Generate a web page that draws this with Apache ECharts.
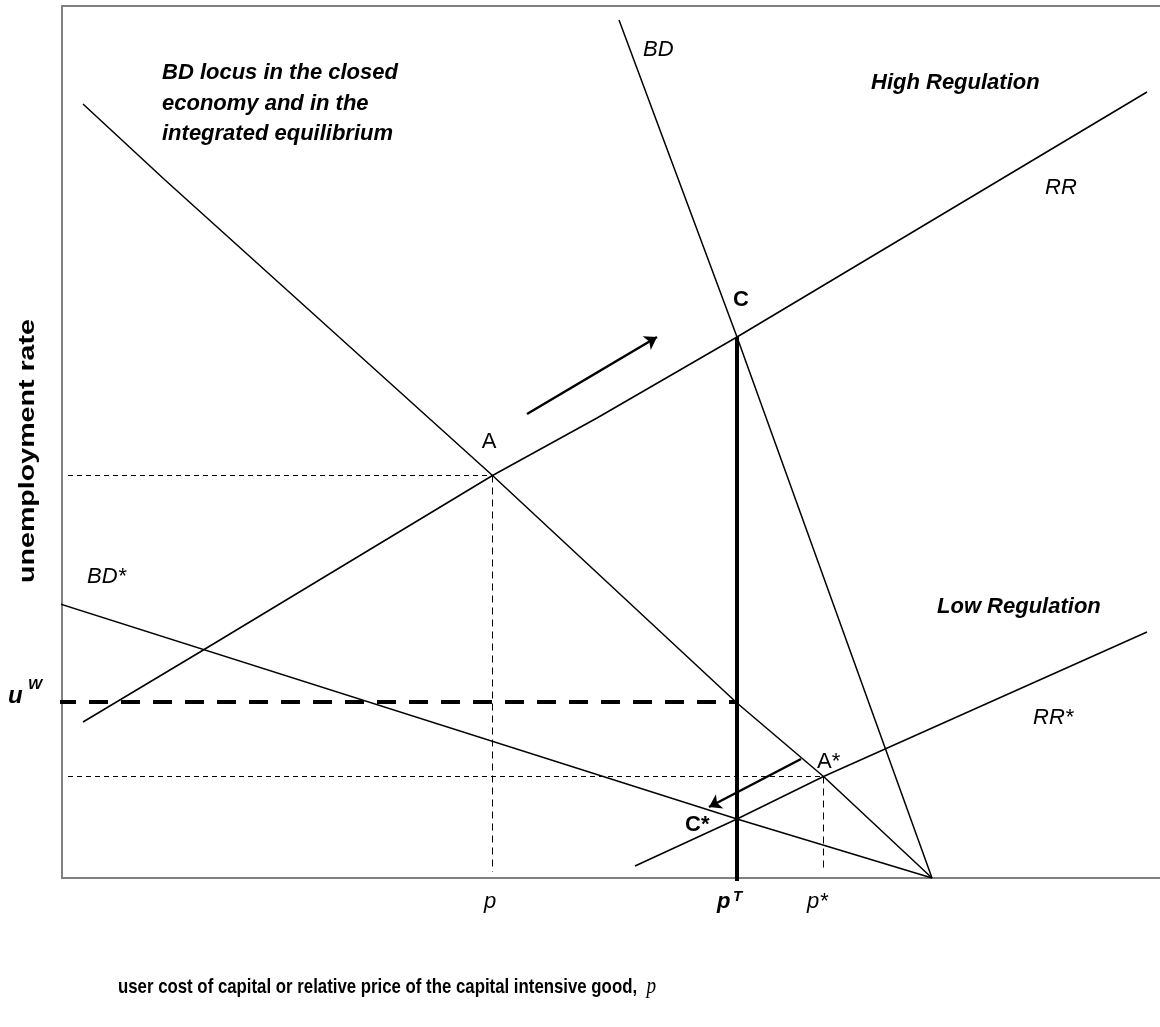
<!DOCTYPE html>
<html>
<head>
<meta charset="utf-8">
<title>BD and RR loci</title>
<script src="https://cdn.jsdelivr.net/npm/echarts@6/dist/echarts.min.js"></script>
<style>
  html, body { margin: 0; padding: 0; background: #fff; }
  #chart { width: 1160px; height: 1027px; }
</style>
</head>
<body>
<div id="chart"></div>
<script>
// loci: x = relative price p, y = unemployment rate (arbitrary units)
var bdClosed = [[2.1, 77.4], [10.3, 69.8], [43.05, 40.25], [67.5, 17.5], [76.15, 10.15], [87.0, 0]]
var bdHigh = [[55.7, 85.8], [67.5, 54.1], [87.0, 0]]
var rrHigh = [[2.1, 15.6], [13.8, 22.6], [43.05, 40.25], [53.5, 46.0], [67.5, 54.1], [108.5, 78.6]]
var bdLow = [[-0.5, 27.5], [67.5, 5.9], [87.0, 0]]
var rrLow = [[57.3, 1.2], [67.5, 5.9], [76.15, 10.15], [108.5, 24.6]]
// equilibria
var pointA = [43.05, 40.25]
var pointAStar = [76.15, 10.15]
var pointC = [67.5, 54.1]
var uWorld = 17.6
// shift arrows
var shiftUp = [[46.5, 46.4], [59.5, 54.1]]
var shiftDown = [[73.9, 11.9], [64.7, 7.1]]

var FONT = 'Liberation Sans, Arial, sans-serif'

// text notes, anchored in data units
var notes = [
  { text: 'BD locus in the closed\neconomy and in the\nintegrated equilibrium', at: [10.0, 82.0], font: 'italic bold 22px', align: 'left', valign: 'top', lineHeight: 30.5 },
  { text: 'BD', at: [58.1, 82.8], font: 'italic 22px', align: 'left' },
  { text: 'High Regulation', at: [80.9, 79.5], font: 'italic bold 22px', align: 'left' },
  { text: 'RR', at: [98.3, 69.0], font: 'italic 22px', align: 'left' },
  { text: 'C', at: [67.9, 57.8], font: 'bold 22px', align: 'center' },
  { text: 'A', at: [42.7, 43.6], font: '22px', align: 'center' },
  { text: 'BD*', at: [2.5, 30.1], font: 'italic 22px', align: 'left' },
  { text: 'Low Regulation', at: [87.5, 27.1], font: 'italic bold 22px', align: 'left' },
  { text: 'RR*', at: [97.1, 16.0], font: 'italic 22px', align: 'left' },
  { text: 'A*', at: [75.5, 11.6], font: '22px', align: 'left' },
  { text: 'C*', at: [62.3, 5.3], font: 'bold 22px', align: 'left' },
  { text: 'u', at: [-5.4, 18.2], font: 'italic bold 24px', align: 'left' },
  { text: 'W', at: [-3.4, 19.3], font: 'italic bold 15px', align: 'left' },
  { text: 'p', at: [42.8, -2.4], font: 'italic 22px', align: 'center' },
  { text: 'p', at: [65.5, -2.4], font: 'italic bold 22px', align: 'left' },
  { text: 'T', at: [67.1, -1.9], font: 'italic bold 15px', align: 'left' },
  { text: 'p*', at: [74.5, -2.4], font: 'italic 22px', align: 'left' }
]

function plain (name, data, width, type, z) {
  return {
    name: name,
    type: 'line',
    data: data,
    symbol: 'none',
    clip: false,
    silent: true,
    z: z || 2,
    lineStyle: { color: '#000', width: width, type: type || 'solid' }
  }
}

var frame = { show: true, onZero: false, lineStyle: { color: '#808080', width: 2 } }
var bare = { axisTick: { show: false }, axisLabel: { show: false }, splitLine: { show: false } }

var chart = echarts.init(document.getElementById('chart'))
chart.setOption({
  animation: false,
  grid: { left: 62, top: 6, right: 0, bottom: 149 },
  xAxis: [
    Object.assign({ type: 'value', min: 0, max: 109.8, position: 'bottom', axisLine: frame }, bare),
    Object.assign({ type: 'value', min: 0, max: 109.8, position: 'top', axisLine: frame }, bare)
  ],
  yAxis: Object.assign({ type: 'value', min: 0, max: 87.2, position: 'left', axisLine: frame }, bare),
  series: [
    plain('BD closed', bdClosed, 1.5),
    plain('BD', bdHigh, 1.5),
    plain('RR', rrHigh, 1.5),
    plain('BD*', bdLow, 1.5),
    plain('RR*', rrLow, 1.5),
    plain('A level', [[0.6, pointA[1]], pointA], 1, [5, 4]),
    plain('A price', [pointA, [pointA[0], 0.6]], 1, [7, 5]),
    plain('A* level', [[0.6, pointAStar[1]], pointAStar], 1, [5, 4]),
    plain('A* price', [pointAStar, [pointAStar[0], 0.6]], 1, [7, 5]),
    plain('uW', [[-0.5, uWorld], [pointC[0], uWorld]], 4, [19, 13], 3),
    plain('pT', [pointC, [pointC[0], -0.3]], 4, 'solid', 4),
    {
      name: 'shifts',
      type: 'line',
      data: [],
      markLine: {
        silent: true,
        symbol: ['none', 'arrow'],
        symbolSize: 12,
        label: { show: false },
        lineStyle: { color: '#000', width: 2.5, type: 'solid' },
        data: [
          [{ coord: shiftUp[0] }, { coord: shiftUp[1] }],
          [{ coord: shiftDown[0] }, { coord: shiftDown[1] }]
        ]
      }
    }
  ]
})

var graphics = notes.map(function (n) {
  var pos = chart.convertToPixel({ xAxisIndex: 0, yAxisIndex: 0 }, n.at)
  return {
    type: 'text',
    x: pos[0],
    y: pos[1],
    style: {
      text: n.text,
      font: n.font + ' ' + FONT,
      fill: '#000',
      lineHeight: n.lineHeight,
      align: n.align,
      textAlign: n.align,
      verticalAlign: n.valign || 'middle',
      textVerticalAlign: n.valign || 'middle'
    }
  }
})

// axis titles
var yTitle = chart.convertToPixel({ xAxisIndex: 0, yAxisIndex: 0 }, [-3.4, 42.7])
graphics.push({
  type: 'text',
  x: yTitle[0],
  y: yTitle[1],
  rotation: Math.PI / 2,
  scaleX: 1.3,
  style: {
    text: 'unemployment rate',
    font: 'bold 22px ' + FONT,
    fill: '#000',
    align: 'center',
    textAlign: 'center',
    verticalAlign: 'middle',
    textVerticalAlign: 'middle'
  }
})
var xTitle = chart.convertToPixel({ xAxisIndex: 0, yAxisIndex: 0 }, [32.5, -10.9])
graphics.push({
  type: 'text',
  x: xTitle[0],
  y: xTitle[1],
  scaleX: 0.8,
  style: {
    text: '{a|user cost of capital or relative price of the capital intensive good,  }{b|p}',
    fill: '#000',
    align: 'center',
    textAlign: 'center',
    verticalAlign: 'middle',
    textVerticalAlign: 'middle',
    rich: {
      a: { fontFamily: FONT, fontWeight: 'bold', fontSize: 21, fill: '#000' },
      b: { fontFamily: 'Liberation Serif, Times New Roman, serif', fontStyle: 'italic', fontSize: 24, fill: '#000' }
    }
  }
})

chart.setOption({ graphic: graphics })
</script>
</body>
</html>
